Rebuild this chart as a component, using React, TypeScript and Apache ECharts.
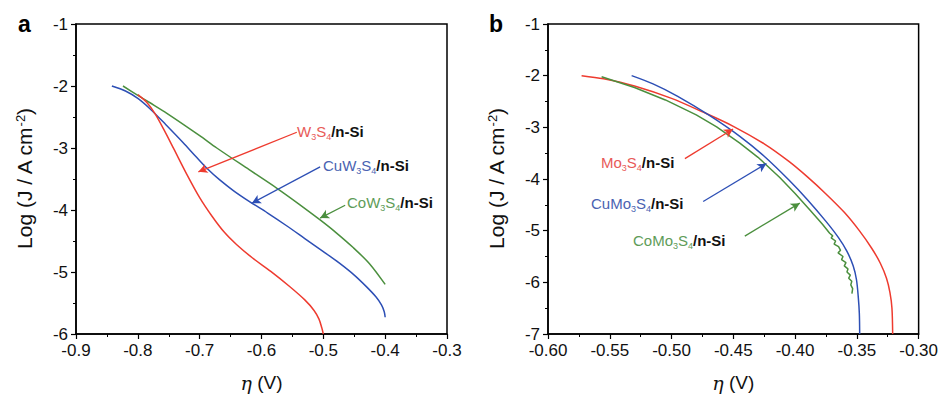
import React, { useEffect, useRef } from "react";
import * as echarts from "echarts";

// ---------- Panel a (W-based) ----------
const A_W3S4_X = [-0.80, -0.785, -0.772, -0.757, -0.742, -0.721, -0.700, -0.680, -0.660, -0.640, -0.615, -0.585, -0.555, -0.530, -0.515, -0.507, -0.5025, -0.5];
const A_W3S4_Y = [-2.14, -2.27, -2.45, -2.72, -3.01, -3.42, -3.80, -4.10, -4.36, -4.56, -4.77, -4.99, -5.23, -5.45, -5.62, -5.76, -5.90, -6.0];

const A_CUW3S4_X = [-0.842, -0.82, -0.80, -0.78, -0.755, -0.727, -0.705, -0.688, -0.668, -0.645, -0.62, -0.59, -0.56, -0.53, -0.50, -0.475, -0.45, -0.43, -0.415, -0.406, -0.4015, -0.4];
const A_CUW3S4_Y = [-2.0, -2.08, -2.20, -2.37, -2.62, -2.91, -3.15, -3.33, -3.51, -3.69, -3.86, -4.05, -4.25, -4.46, -4.67, -4.85, -5.05, -5.24, -5.40, -5.53, -5.64, -5.73];

const A_COW3S4_X = [-0.824, -0.80, -0.7803, -0.753, -0.70, -0.6723, -0.62, -0.575, -0.54, -0.5052, -0.48, -0.4513, -0.425, -0.4];
const A_COW3S4_Y = [-2.0, -2.15, -2.27, -2.44, -2.80, -3.0, -3.35, -3.65, -3.90, -4.16, -4.36, -4.61, -4.87, -5.2];

// ---------- Panel b (Mo-based) ----------
const B_MO3S4_X = [-0.5728, -0.555, -0.53, -0.50, -0.475, -0.45, -0.425, -0.405, -0.39, -0.375, -0.36, -0.348, -0.338, -0.331, -0.326, -0.3232, -0.3216, -0.321];
const B_MO3S4_Y = [-2.0, -2.06, -2.20, -2.44, -2.70, -2.98, -3.32, -3.66, -3.96, -4.29, -4.65, -5.0, -5.34, -5.63, -5.92, -6.2, -6.5, -7.0];

const B_CUMO3S4_X = [-0.5323, -0.515, -0.495, -0.47, -0.445, -0.425, -0.405, -0.39, -0.375, -0.365, -0.358, -0.353, -0.3503, -0.3488, -0.348, -0.3477];
const B_CUMO3S4_Y = [-2.0, -2.16, -2.40, -2.76, -3.17, -3.56, -4.02, -4.40, -4.82, -5.13, -5.40, -5.68, -5.95, -6.3, -6.6, -7.0];

const B_COMO3S4_X = [-0.5566, -0.53, -0.505, -0.48, -0.4635, -0.445, -0.43, -0.4124, -0.40, -0.388, -0.378, -0.372, -0.3695, -0.3708, -0.3672, -0.3684, -0.3648, -0.3632, -0.3652, -0.3612, -0.3624, -0.3588, -0.3602, -0.3572, -0.3580, -0.3553, -0.3566, -0.3541, -0.3549, -0.3534, -0.3540];
const B_COMO3S4_Y = [-2.02, -2.23, -2.47, -2.76, -2.99, -3.30, -3.58, -3.97, -4.28, -4.60, -4.87, -5.05, -5.10, -5.14, -5.20, -5.26, -5.31, -5.38, -5.43, -5.50, -5.56, -5.62, -5.68, -5.74, -5.80, -5.86, -5.92, -5.98, -6.05, -6.12, -6.22];

// ---------- Annotation arrows (from, to) in data units ----------
const A_W3S4_ARROW = [[-0.5429, -2.746], [-0.7021, -3.385]];
const A_CUW3S4_ARROW = [[-0.5052, -3.305], [-0.6157, -3.891]];
const A_COW3S4_ARROW = [[-0.4647, -3.923], [-0.5052, -4.131]];
const B_MO3S4_ARROW = [[-0.4892, -3.605], [-0.4502, -3.031]];
const B_CUMO3S4_ARROW = [[-0.4744, -4.435], [-0.4232, -3.701]];
const B_COMO3S4_ARROW = [[-0.4407, -5.105], [-0.3962, -4.467]];

const FONT = "Liberation Sans, Arial, Helvetica, sans-serif";
const RED = "#ee3b2f";
const BLUE = "#2d4fb5";
const GREEN = "#4b8f3e";
const RED_T = "#e85a58";
const BLUE_T = "#4a63b2";
const GREEN_T = "#5e9c58";

const pairs = (xs: number[], ys: number[]) => xs.map((x, i) => [x, ys[i]]);

function curve(name: string, xs: number[], ys: number[], color: string, idx: number, arrow: number[][], smooth: number) {
  return {
    type: "line",
    name,
    xAxisIndex: idx,
    yAxisIndex: idx,
    data: pairs(xs, ys),
    showSymbol: false,
    symbol: "none",
    smooth,
    silent: true,
    lineStyle: { color, width: 1.5 },
    itemStyle: { color },
    markLine: {
      silent: true,
      symbol: ["none", "arrow"],
      symbolSize: [7, 9],
      label: { show: false },
      lineStyle: { color, width: 1.3, type: "solid" },
      data: [[{ coord: arrow[0] }, { coord: arrow[1] }]],
    },
  };
}

function xAxis(idx: number, min: number, max: number, interval: number, digits: number) {
  return {
    gridIndex: idx,
    type: "value",
    min,
    max,
    interval,
    axisLine: { show: true, onZero: false, lineStyle: { color: "#000", width: 1.5 } },
    axisTick: { show: true, inside: false, length: 5, lineStyle: { color: "#000", width: 1.2 } },
    minorTick: { show: true, splitNumber: 2, length: 3, lineStyle: { color: "#000", width: 1 } },
    splitLine: { show: false },
    axisLabel: {
      formatter: (v: number) => v.toFixed(digits),
      fontSize: 17,
      fontFamily: FONT,
      color: "#111",
      margin: 8,
    },
    name: "{i|η} (V)",
    nameLocation: "middle",
    nameGap: 39,
    nameTextStyle: {
      fontSize: 19,
      fontFamily: FONT,
      color: "#111",
      rich: { i: { fontSize: 19, fontStyle: "italic", fontFamily: "DejaVu Serif, serif", color: "#111" } },
    },
  };
}

function yAxis(idx: number, min: number, max: number) {
  return {
    gridIndex: idx,
    type: "value",
    min,
    max,
    interval: 1,
    axisLine: { show: true, onZero: false, lineStyle: { color: "#000", width: 1.5 } },
    axisTick: { show: true, inside: false, length: 5, lineStyle: { color: "#000", width: 1.2 } },
    minorTick: { show: true, splitNumber: 2, length: 3, lineStyle: { color: "#000", width: 1 } },
    splitLine: { show: false },
    axisLabel: { fontSize: 17, fontFamily: FONT, color: "#111", margin: 8 },
    name: "Log (J / A cm{sup|-2})",
    nameLocation: "middle",
    nameGap: 41,
    nameTextStyle: {
      fontSize: 21,
      fontFamily: FONT,
      color: "#111",
      rich: { sup: { fontSize: 13, fontFamily: FONT, color: "#111", verticalAlign: "top", lineHeight: 11 } },
    },
  };
}

function chemLabel(x: number, y: number, text: string, color: string) {
  return {
    type: "text",
    x,
    y,
    silent: true,
    style: {
      text,
      align: "left",
      verticalAlign: "middle",
      fontSize: 15,
      fontFamily: FONT,
      rich: {
        c: { fill: color, color, fontSize: 15, fontFamily: FONT, lineHeight: 20 },
        s: { fill: color, color, fontSize: 9, fontFamily: FONT, lineHeight: 10, verticalAlign: "bottom" },
        k: { fill: "#111", color: "#111", fontSize: 15, fontWeight: "bold", fontFamily: FONT, lineHeight: 20 },
      },
    },
  };
}

const option = {
  animation: false,
  backgroundColor: "#fff",
  grid: [
    { left: 76, top: 24, width: 371, height: 313, show: true, borderColor: "#000", borderWidth: 1.5, backgroundColor: "transparent" },
    { left: 548, top: 24, width: 371, height: 313, show: true, borderColor: "#000", borderWidth: 1.5, backgroundColor: "transparent" },
  ],
  xAxis: [xAxis(0, -0.9, -0.3, 0.1, 1), xAxis(1, -0.6, -0.3, 0.05, 2)],
  yAxis: [yAxis(0, -6, -1), yAxis(1, -7, -1)],
  series: [
    curve("CuW3S4/n-Si", A_CUW3S4_X, A_CUW3S4_Y, BLUE, 0, A_CUW3S4_ARROW, 0.3),
    curve("CoW3S4/n-Si", A_COW3S4_X, A_COW3S4_Y, GREEN, 0, A_COW3S4_ARROW, 0.3),
    curve("W3S4/n-Si", A_W3S4_X, A_W3S4_Y, RED, 0, A_W3S4_ARROW, 0.3),
    curve("Mo3S4/n-Si", B_MO3S4_X, B_MO3S4_Y, RED, 1, B_MO3S4_ARROW, 0.3),
    curve("CuMo3S4/n-Si", B_CUMO3S4_X, B_CUMO3S4_Y, BLUE, 1, B_CUMO3S4_ARROW, 0.3),
    curve("CoMo3S4/n-Si", B_COMO3S4_X, B_COMO3S4_Y, GREEN, 1, B_COMO3S4_ARROW, 0),
  ],
  graphic: [
    { type: "text", x: 18, y: 24, silent: true, style: { text: "a", fontSize: 23, fontWeight: "bold", fontFamily: FONT, fill: "#000", verticalAlign: "middle" } },
    { type: "text", x: 489, y: 24, silent: true, style: { text: "b", fontSize: 23, fontWeight: "bold", fontFamily: FONT, fill: "#000", verticalAlign: "middle" } },
    chemLabel(297, 131, "{c|W}{s|3}{c|S}{s|4}{k|/n-Si}", RED_T),
    chemLabel(323, 165, "{c|CuW}{s|3}{c|S}{s|4}{k|/n-Si}", BLUE_T),
    chemLabel(347, 202, "{c|CoW}{s|3}{c|S}{s|4}{k|/n-Si}", GREEN_T),
    chemLabel(601, 162, "{c|Mo}{s|3}{c|S}{s|4}{k|/n-Si}", RED_T),
    chemLabel(591, 203, "{c|CuMo}{s|3}{c|S}{s|4}{k|/n-Si}", BLUE_T),
    chemLabel(633, 240, "{c|CoMo}{s|3}{c|S}{s|4}{k|/n-Si}", GREEN_T),
  ],
};

export default function App() {
  const ref = useRef<HTMLDivElement>(null);
  useEffect(() => {
    const chart = echarts.init(ref.current!, null, { renderer: "svg" });
    chart.setOption(option as any);
    return () => chart.dispose();
  }, []);
  return <div ref={ref} style={{ position: "absolute", left: 0, top: 0, width: 941, height: 397 }} />;
}
